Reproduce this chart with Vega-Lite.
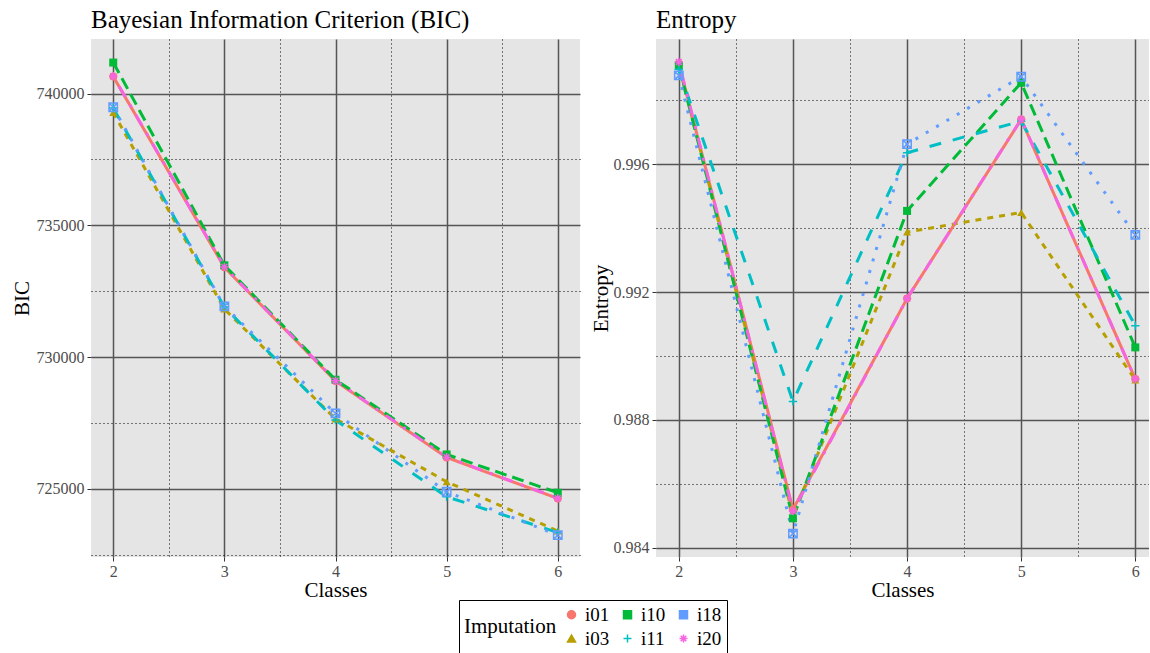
{
  "$schema": "https://vega.github.io/schema/vega-lite/v6.json",
  "padding": {"left": 11, "top": 8, "right": 0, "bottom": 0},
  "datasets": {
    "bic": [
      {"imp": "i01", "classes": 2, "value": 740645}, {"imp": "i01", "classes": 3, "value": 733405}, {"imp": "i01", "classes": 4, "value": 729089}, {"imp": "i01", "classes": 5, "value": 726188}, {"imp": "i01", "classes": 6, "value": 724632},
      {"imp": "i03", "classes": 2, "value": 739278}, {"imp": "i03", "classes": 3, "value": 731822}, {"imp": "i03", "classes": 4, "value": 727650}, {"imp": "i03", "classes": 5, "value": 725266}, {"imp": "i03", "classes": 6, "value": 723394},
      {"imp": "i10", "classes": 2, "value": 741177}, {"imp": "i10", "classes": 3, "value": 733481}, {"imp": "i10", "classes": 4, "value": 729138}, {"imp": "i10", "classes": 5, "value": 726302}, {"imp": "i10", "classes": 6, "value": 724848},
      {"imp": "i11", "classes": 2, "value": 739450}, {"imp": "i11", "classes": 3, "value": 731900}, {"imp": "i11", "classes": 4, "value": 727608}, {"imp": "i11", "classes": 5, "value": 724696}, {"imp": "i11", "classes": 6, "value": 723340},
      {"imp": "i18", "classes": 2, "value": 739480}, {"imp": "i18", "classes": 3, "value": 731924}, {"imp": "i18", "classes": 4, "value": 727860}, {"imp": "i18", "classes": 5, "value": 724886}, {"imp": "i18", "classes": 6, "value": 723240},
      {"imp": "i20", "classes": 2, "value": 740660}, {"imp": "i20", "classes": 3, "value": 733420}, {"imp": "i20", "classes": 4, "value": 729100}, {"imp": "i20", "classes": 5, "value": 726200}, {"imp": "i20", "classes": 6, "value": 724640}
    ],
    "ent": [
      {"imp": "i01", "classes": 2, "value": 0.99915}, {"imp": "i01", "classes": 3, "value": 0.98520}, {"imp": "i01", "classes": 4, "value": 0.99180}, {"imp": "i01", "classes": 5, "value": 0.99740}, {"imp": "i01", "classes": 6, "value": 0.98928},
      {"imp": "i03", "classes": 2, "value": 0.99910}, {"imp": "i03", "classes": 3, "value": 0.98500}, {"imp": "i03", "classes": 4, "value": 0.99388}, {"imp": "i03", "classes": 5, "value": 0.99449}, {"imp": "i03", "classes": 6, "value": 0.98925},
      {"imp": "i10", "classes": 2, "value": 0.99909}, {"imp": "i10", "classes": 3, "value": 0.98492}, {"imp": "i10", "classes": 4, "value": 0.99454}, {"imp": "i10", "classes": 5, "value": 0.99855}, {"imp": "i10", "classes": 6, "value": 0.99027},
      {"imp": "i11", "classes": 2, "value": 0.99897}, {"imp": "i11", "classes": 3, "value": 0.98858}, {"imp": "i11", "classes": 4, "value": 0.99636}, {"imp": "i11", "classes": 5, "value": 0.99735}, {"imp": "i11", "classes": 6, "value": 0.99095},
      {"imp": "i18", "classes": 2, "value": 0.99878}, {"imp": "i18", "classes": 3, "value": 0.98444}, {"imp": "i18", "classes": 4, "value": 0.99663}, {"imp": "i18", "classes": 5, "value": 0.99874}, {"imp": "i18", "classes": 6, "value": 0.99379},
      {"imp": "i20", "classes": 2, "value": 0.99920}, {"imp": "i20", "classes": 3, "value": 0.98515}, {"imp": "i20", "classes": 4, "value": 0.99180}, {"imp": "i20", "classes": 5, "value": 0.99741}, {"imp": "i20", "classes": 6, "value": 0.98928}
    ]
  },
  "spacing": 10,
  "hconcat": [
    {
      "width": 489,
      "height": 518,
      "title": {"text": "Bayesian Information Criterion (BIC)"},
      "data": {"name": "bic"},
      "encoding": {
        "x": {"field": "classes", "type": "quantitative", "scale": {"domain": [1.8, 6.2], "nice": false, "zero": false},
          "axis": {"title": "Classes", "values": [2, 2.5, 3, 3.5, 4, 4.5, 5, 5.5, 6],
            "labelExpr": "datum.value % 1 == 0 ? format(datum.value, 'd') : ''",
            "gridDash": {"condition": {"test": "datum.value % 1 != 0", "value": [1, 3]}, "value": []},
            "gridColor": {"condition": {"test": "datum.value % 1 != 0", "value": "#000000"}, "value": "#555555"},
            "gridWidth": {"condition": {"test": "datum.value % 1 != 0", "value": 1}, "value": 1.5},
            "tickOpacity": {"condition": {"test": "datum.value % 1 != 0", "value": 0}, "value": 1}}},
        "y": {"field": "value", "type": "quantitative", "scale": {"domain": [722409, 742071], "nice": false, "zero": false},
          "axis": {"title": "BIC", "values": [722500, 725000, 727500, 730000, 732500, 735000, 737500, 740000],
            "labelExpr": "datum.value % 5000 == 0 ? format(datum.value, 'd') : ''",
            "gridDash": {"condition": {"test": "datum.value % 5000 != 0", "value": [1, 3]}, "value": []},
            "gridColor": {"condition": {"test": "datum.value % 5000 != 0", "value": "#000000"}, "value": "#555555"},
            "gridWidth": {"condition": {"test": "datum.value % 5000 != 0", "value": 1}, "value": 1.5},
            "tickOpacity": {"condition": {"test": "datum.value % 5000 != 0", "value": 0}, "value": 1}}}
      },
      "layer": [
        {
          "mark": {"type": "line", "strokeWidth": 3},
          "encoding": {
            "color": {"field": "imp", "type": "nominal", "title": "Imputation",
              "scale": {"domain": ["i01", "i10", "i18", "i03", "i11", "i20"], "range": ["#F8766D", "#00BA38", "#619CFF", "#B79F00", "#00BFC4", "#F564E3"]},
              "legend": {"encode": {"symbols": {"update": {
                "fill": {"value": {"expr": "indexof(['i01','i03','i10'], datum.value) >= 0 ? scale('color', datum.value) : 'transparent'"}},
                "stroke": {"value": {"expr": "scale('color', datum.value)"}},
                "strokeWidth": {"value": 1.5},
                "opacity": {"value": 1}}}}}},
            "strokeDash": {"field": "imp", "type": "nominal", "legend": null, "scale": {"domain": ["i01", "i03", "i10", "i11", "i18", "i20"], "range": [[1, 0], [6, 6], [12, 6], [12, 12], [3, 9], [3, 9, 12, 9]]}},
            "order": {"field": "classes", "type": "quantitative"}
          }
        },
        {
          "transform": [{"filter": "indexof(['i01','i03','i10'], datum.imp) >= 0"}],
          "mark": {"type": "point", "filled": true, "size": 64, "opacity": 1},
          "encoding": {
            "color": {"field": "imp", "type": "nominal", "title": "Imputation"},
            "shape": {"field": "imp", "type": "nominal", "title": "Imputation",
              "scale": {"domain": ["i01", "i10", "i18", "i03", "i11", "i20"], "range": ["circle", "square", "M-1,-1L1,-1L1,1L-1,1ZM-1,-1L1,1M-1,1L1,-1", "triangle-up", "M-1,0L1,0M0,-1L0,1", "M-1,0L1,0M0,-1L0,1M-0.7,-0.7L0.7,0.7M-0.7,0.7L0.7,-0.7"]},
              "legend": {"encode": {"symbols": {"update": {
                "fill": {"value": {"expr": "indexof(['i01','i03','i10'], datum.value) >= 0 ? scale('color', datum.value) : 'transparent'"}},
                "stroke": {"value": {"expr": "scale('color', datum.value)"}},
                "strokeWidth": {"value": 1.5},
                "opacity": {"value": 1}}}}}}
          }
        },
        {
          "transform": [{"filter": "indexof(['i11','i18','i20'], datum.imp) >= 0"}],
          "mark": {"type": "point", "filled": false, "size": 70, "strokeWidth": 1.5, "opacity": 1},
          "encoding": {
            "color": {"field": "imp", "type": "nominal", "title": "Imputation"},
            "shape": {"field": "imp", "type": "nominal", "title": "Imputation"}
          }
        }
      ]
    },
    {
      "width": 493,
      "height": 518,
      "title": {"text": "Entropy"},
      "data": {"name": "ent"},
      "encoding": {
        "x": {"field": "classes", "type": "quantitative", "scale": {"domain": [1.8, 6.12], "nice": false, "zero": false},
          "axis": {"title": "Classes", "values": [2, 2.5, 3, 3.5, 4, 4.5, 5, 5.5, 6],
            "labelExpr": "datum.value % 1 == 0 ? format(datum.value, 'd') : ''",
            "gridDash": {"condition": {"test": "datum.value % 1 != 0", "value": [1, 3]}, "value": []},
            "gridColor": {"condition": {"test": "datum.value % 1 != 0", "value": "#000000"}, "value": "#555555"},
            "gridWidth": {"condition": {"test": "datum.value % 1 != 0", "value": 1}, "value": 1.5},
            "tickOpacity": {"condition": {"test": "datum.value % 1 != 0", "value": 0}, "value": 1}}},
        "y": {"field": "value", "type": "quantitative", "scale": {"domain": [0.98371, 0.99992], "nice": false, "zero": false},
          "axis": {"title": "Entropy", "values": [0.984, 0.986, 0.988, 0.990, 0.992, 0.994, 0.996, 0.998], "titlePadding": 2,
            "labelExpr": "round(datum.value * 1000) % 4 == 0 ? format(datum.value, '.3f') : ''",
            "gridDash": {"condition": {"test": "round(datum.value * 1000) % 4 != 0", "value": [1, 3]}, "value": []},
            "gridColor": {"condition": {"test": "round(datum.value * 1000) % 4 != 0", "value": "#000000"}, "value": "#555555"},
            "gridWidth": {"condition": {"test": "round(datum.value * 1000) % 4 != 0", "value": 1}, "value": 1.5},
            "tickOpacity": {"condition": {"test": "round(datum.value * 1000) % 4 != 0", "value": 0}, "value": 1}}}
      },
      "layer": [
        {
          "mark": {"type": "line", "strokeWidth": 3},
          "encoding": {
            "color": {"field": "imp", "type": "nominal", "title": "Imputation"},
            "strokeDash": {"field": "imp", "type": "nominal", "legend": null},
            "order": {"field": "classes", "type": "quantitative"}
          }
        },
        {
          "transform": [{"filter": "indexof(['i01','i03','i10'], datum.imp) >= 0"}],
          "mark": {"type": "point", "filled": true, "size": 64, "opacity": 1},
          "encoding": {
            "color": {"field": "imp", "type": "nominal", "title": "Imputation"},
            "shape": {"field": "imp", "type": "nominal", "title": "Imputation"}
          }
        },
        {
          "transform": [{"filter": "indexof(['i11','i18','i20'], datum.imp) >= 0"}],
          "mark": {"type": "point", "filled": false, "size": 70, "strokeWidth": 1.5, "opacity": 1},
          "encoding": {
            "color": {"field": "imp", "type": "nominal", "title": "Imputation"},
            "shape": {"field": "imp", "type": "nominal", "title": "Imputation"}
          }
        }
      ]
    }
  ],
  "resolve": {"scale": {"color": "shared", "shape": "shared", "strokeDash": "shared"}},
  "config": {
    "font": "Liberation Serif",
    "view": {"fill": "#E5E5E5", "stroke": null},
    "title": {"anchor": "start", "frame": "group", "fontSize": 25, "fontWeight": "normal", "color": "#000000", "offset": 6},
    "axis": {
      "domain": false,
      "grid": true,
      "tickColor": "#333333",
      "tickSize": 4,
      "labelColor": "#4D4D4D",
      "labelFontSize": 16,
      "labelPadding": 3,
      "titleFontSize": 21,
      "titleFontWeight": "normal",
      "titleColor": "#000000"
    },
    "axisX": {"titlePadding": 0, "labelPadding": 2},
    "legend": {
      "orient": "none",
      "legendX": 368,
      "legendY": 561,
      "direction": "horizontal",
      "columns": 3,
      "title": "Imputation",
      "titleOrient": "left",
      "titleFont": "Liberation Serif",
      "titleFontSize": 21,
      "titleFontWeight": "normal",
      "titleColor": "#000000",
      "labelFont": "Liberation Serif",
      "labelFontSize": 19,
      "labelColor": "#000000",
      "symbolSize": 64,
      "padding": 5,
      "strokeColor": "#000000",
      "columnPadding": 8,
      "rowPadding": 4
    }
  }
}
